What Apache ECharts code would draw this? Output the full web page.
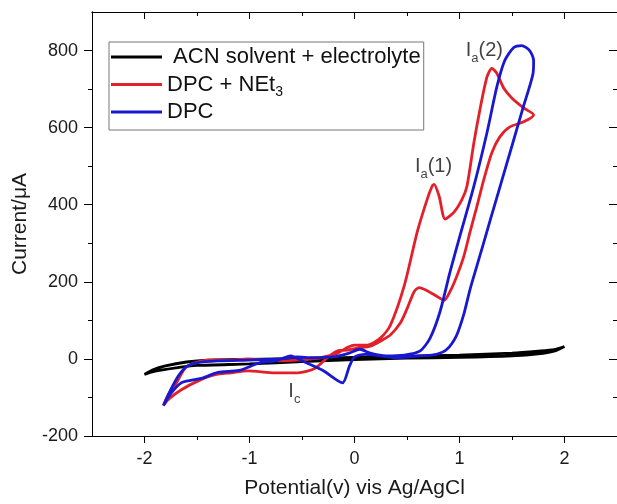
<!DOCTYPE html>
<html><head><meta charset="utf-8">
<script src="https://cdn.jsdelivr.net/npm/echarts@6/dist/echarts.min.js"></script>
<style>html,body{margin:0;padding:0;background:#fff}#c{width:617px;height:504px}</style>
</head><body><div id="c"></div>
<script>
// ---- data (potential V vs Ag/AgCl, current µA) ----
const seriesNames = ['ACN solvent + electrolyte', 'DPC + NEt3', 'DPC'];

const acnV = [2.0, 1.9, 1.75, 1.5, 1.0, 0.5, 0.0, -0.5, -1.0, -1.4, -1.6, -1.8, -1.92, -2.0,
              -1.9, -1.7, -1.5, -1.0, -0.5, 0.0, 0.5, 1.0, 1.5, 1.75, 1.9, 2.0];
const acnI = [32, 24, 20, 15, 10, 7, 4, 1, -1, -3, -8, -18, -28, -40,
              -32, -23, -17, -13, -7, -2, 2, 4, 8, 13, 20, 32];

const netV = [-1.82, -1.773, -1.706, -1.611, -1.517, -1.393, -1.175, -1.014, -0.853, -0.701, -0.54, -0.322, -0.161, -0.066, 0.0, 0.123, 0.246, 0.341, 0.474, 0.597, 0.692, 0.739, 0.758, 0.806, 0.863, 0.948, 1.024, 1.071, 1.137, 1.194, 1.261, 1.308, 1.355, 1.422, 1.498, 1.611, 1.706,
              1.611, 1.479, 1.384, 1.308, 1.232, 1.166, 1.1, 1.043, 0.976, 0.91, 0.853, 0.787, 0.692, 0.616, 0.569, 0.502, 0.436, 0.341, 0.246, 0.152, 0.028, -0.066, -0.161, -0.25, -0.379, -0.54, -0.758, -1.014, -1.175, -1.327, -1.488, -1.649, -1.773, -1.82];
const netI = [-121, -93, -67, -23, -10, -3, -3, 0, -3, -5, -3, 3, 15, 30, 36, 36, 54, 87, 190, 329, 414, 448, 453, 422, 363, 381, 414, 448, 561, 646, 731, 754, 741, 702, 677, 651, 633,
              615, 602, 576, 535, 466, 396, 329, 268, 216, 175, 152, 162, 177, 185, 175, 131, 93, 62, 46, 33, 28, 23, 21, 5, -25, -36, -36, -31, -36, -41, -57, -80, -105, -121];

const dpcV = [-1.82, -1.75, -1.68, -1.6, -1.5, -1.3, -1.0, -0.7, -0.55, -0.4, -0.2, -0.05, 0.05, 0.15, 0.3, 0.474, 0.626, 0.72, 0.815, 0.91, 1.0, 1.137, 1.261, 1.355, 1.431, 1.517, 1.592, 1.668, 1.706,
              1.70, 1.6, 1.5, 1.4, 1.3, 1.2, 1.1, 1.04, 0.97, 0.88, 0.78, 0.626, 0.408, 0.246, 0.1, 0.0, -0.05, -0.114, -0.3, -0.5, -0.607, -0.75, -0.9, -1.1, -1.3, -1.45, -1.55, -1.65, -1.75, -1.82];
const dpcI = [-121, -80, -45, -20, -10, -5, -3, 0, 5, 3, 5, 15, 25, 15, 8, 10, 21, 54, 123, 226, 315, 448, 586, 705, 774, 808, 813, 800, 774,
              740, 647, 553, 460, 367, 273, 180, 115, 60, 25, 12, 8, 3, 8, 12, 5, -20, -62, -30, -5, 8, -5, -10, -30, -35, -50, -55, -62, -90, -121];

const xMajor = [-2, -1, 0, 1, 2];
const xMinor = [-1.5, -0.5, 0.5, 1.5];
const yMajor = [-200, 0, 200, 400, 600, 800];
const yMinor = [-100, 100, 300, 500, 700];

const annoV = [0.575, 1.06, -0.63];
const annoI = [500, 800, -85];
const annoSub = ['a', 'a', 'c'];
const annoTail = ['(1)', '(2)', ''];

// ---- chart ----
const FONT = '"Liberation Sans", Arial, sans-serif';
const zip = (xs, ys) => xs.map((x, i) => [x, ys[i]]);
const colors = ['#000000', '#e3202a', '#1818d0'];
const axisLineStyle = { color: '#000', width: 1 };

function xAxis(pos, vals, len, inside, labels, extra) {
  return Object.assign({
    type: 'value', min: -2.5, max: 2.5, position: pos,
    axisLine: { show: true, onZero: false, lineStyle: axisLineStyle },
    axisTick: { show: true, inside: inside, length: len, customValues: vals, lineStyle: axisLineStyle },
    axisLabel: labels ? { show: true, customValues: vals, margin: 14, fontSize: 18, color: '#1a1a1a', fontFamily: FONT } : { show: false },
    splitLine: { show: false }
  }, extra || {});
}
function yAxis(pos, vals, len, inside, labels, extra) {
  return Object.assign({
    type: 'value', min: -200, max: 900, position: pos,
    axisLine: { show: true, onZero: false, lineStyle: axisLineStyle },
    axisTick: { show: true, inside: inside, length: len, customValues: vals, lineStyle: axisLineStyle },
    axisLabel: labels ? { show: true, customValues: vals, margin: 14, fontSize: 18, color: '#1a1a1a', fontFamily: FONT } : { show: false },
    splitLine: { show: false }
  }, extra || {});
}

const chart = echarts.init(document.getElementById('c'), null, { renderer: 'canvas' });
const richMain = { m: { fontSize: 22, lineHeight: 26, fontFamily: FONT, color: '#111' },
                   s: { fontSize: 14, lineHeight: 10, padding: [16, 0, 0, 0], fontFamily: FONT, color: '#111' } };

const lineSeries = [zip(acnV, acnI), zip(netV, netI), zip(dpcV, dpcI)].map((d, i) => ({
  name: seriesNames[i], type: 'line', data: d, xAxisIndex: 0, yAxisIndex: 0,
  showSymbol: false, symbol: 'none', smooth: 0.25, clip: false,
  lineStyle: { color: colors[i], width: 2.8 }, itemStyle: { color: colors[i] }, z: 2 + i
}));

chart.setOption({
  animation: false,
  backgroundColor: '#fff',
  textStyle: { fontFamily: FONT },
  grid: { left: 92, right: -4, top: 12, bottom: 66, containLabel: false },
  legend: {
    data: seriesNames, orient: 'vertical', left: 109, top: 42,
    icon: 'rect', itemWidth: 51, itemHeight: 3, itemGap: 1.5,
    padding: [4, 3, 7, 2], borderColor: '#777', borderWidth: 1,
    formatter: n => n === 'DPC + NEt3' ? '{m|DPC + NEt}{s|3}' : '{m|' + (n.startsWith('ACN') ? ' ' : '') + n + '}',
    textStyle: { rich: richMain, fontSize: 22, color: '#111' }
  },
  xAxis: [
    xAxis('bottom', xMajor, 7, false, true, {
      name: 'Potential(v) vis Ag/AgCl', nameLocation: 'middle', nameGap: 42,
      nameTextStyle: { fontSize: 21, color: '#1a1a1a', fontFamily: FONT }
    }),
    xAxis('bottom', xMinor, 4, false, false),
    xAxis('top', xMajor, 7, true, false),
    xAxis('top', xMinor, 4, true, false)
  ],
  yAxis: [
    yAxis('left', yMajor, 8, false, true, {
      name: 'Current/μA', nameLocation: 'middle', nameGap: 59,
      nameTextStyle: { fontSize: 21, color: '#1a1a1a', fontFamily: FONT }
    }),
    yAxis('left', yMinor, 4, false, false),
    yAxis('right', yMajor, 8, true, false),
    yAxis('right', yMinor, 4, true, false)
  ],
  series: lineSeries.concat([{
    type: 'scatter', xAxisIndex: 0, yAxisIndex: 0, symbolSize: 0, silent: true, z: 10,
    data: annoV.map((v, i) => ({ value: [v, annoI[i]], name: String(i) })),
    label: {
      show: true, position: 'right', distance: 0,
      formatter: p => { const i = +p.name; return '{m|I}{s|' + annoSub[i] + '}' + (annoTail[i] ? '{m|' + annoTail[i] + '}' : ''); },
      rich: { m: { fontSize: 20, lineHeight: 26, fontFamily: FONT, color: '#111' },
              s: { fontSize: 13, lineHeight: 10, padding: [16, 0, 0, 0], fontFamily: FONT, color: '#111' } }
    }
  }])
});
</script></body></html>
